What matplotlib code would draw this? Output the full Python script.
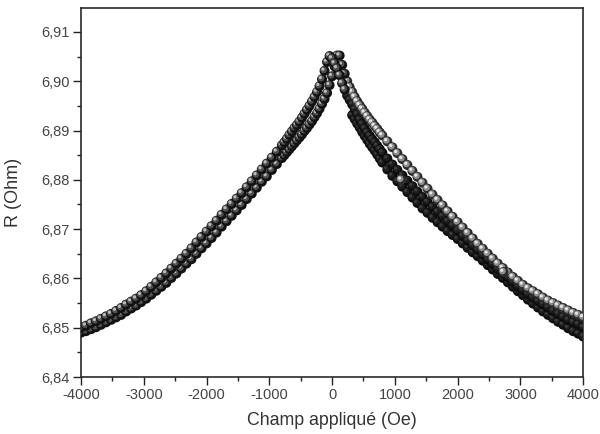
import matplotlib
matplotlib.use("Agg")
import numpy as np
import matplotlib.pyplot as plt
from matplotlib.path import Path
from matplotlib.collections import PathCollection
from matplotlib.transforms import IdentityTransform
from matplotlib.ticker import MultipleLocator, FuncFormatter

# applied field (Oe), shared by both sweeps; 80 Oe steps, 40 Oe near zero
H_field = [-4000, -3920, -3840, -3760, -3680, -3600, -3520, -3440, -3360, -3280,
           -3200, -3120, -3040, -2960, -2880, -2800, -2720, -2640, -2560, -2480,
           -2400, -2320, -2240, -2160, -2080, -2000, -1920, -1840, -1760, -1680,
           -1600, -1520, -1440, -1360, -1280, -1200, -1120, -1040, -960, -880,
           -800,
           -760, -720, -680, -640, -600, -560, -520, -480, -440, -400,
           -360, -320, -280, -240, -200, -160, -120, -80, -40, 0,
           40, 80, 120, 160, 200, 240, 280, 320, 360, 400,
           440, 480, 520, 560, 600, 640, 680, 720, 760,
           800, 880, 960, 1040, 1120, 1200, 1280, 1360, 1440, 1520,
           1600, 1680, 1760, 1840, 1920, 2000, 2080, 2160, 2240, 2320,
           2400, 2480, 2560, 2640, 2720, 2800, 2880, 2960, 3040, 3120,
           3200, 3280, 3360, 3440, 3520, 3600, 3680, 3760, 3840, 3920,
           4000]

# sweep going down: upper curve on the left, dark curve on the right
R_down = [6.8500, 6.8504, 6.8509, 6.8513, 6.8518, 6.8523, 6.8528, 6.8534, 6.8540, 6.8547,
          6.8553, 6.8559, 6.8566, 6.8574, 6.8583, 6.8592, 6.8601, 6.8610, 6.8620, 6.8630,
          6.8640, 6.8650, 6.8661, 6.8673, 6.8684, 6.8695, 6.8706, 6.8717, 6.8729, 6.8740,
          6.8751, 6.8762, 6.8773, 6.8785, 6.8797, 6.8809, 6.8821, 6.8833, 6.8845, 6.8857,
          6.8870,
          6.8876, 6.8883, 6.8891, 6.8898, 6.8905, 6.8911, 6.8918, 6.8926, 6.8934, 6.8942,
          6.8950, 6.8959, 6.8968, 6.8978, 6.8990, 6.9004, 6.9021, 6.9039, 6.9051, 6.9046,
          6.9036, 6.9026, 6.9012, 6.8996, 6.8983, 6.8971, 6.8962, 6.8953, 6.8943, 6.8933,
          6.8922, 6.8913, 6.8904, 6.8896, 6.8889, 6.8882, 6.8876, 6.8869, 6.8862,
          6.8855, 6.8843, 6.8831, 6.8820, 6.8809, 6.8798, 6.8787, 6.8776, 6.8765, 6.8755,
          6.8745, 6.8735, 6.8726, 6.8716, 6.8707, 6.8697, 6.8686, 6.8677, 6.8667, 6.8658,
          6.8648, 6.8638, 6.8629, 6.8619, 6.8611, 6.8602, 6.8593, 6.8584, 6.8576, 6.8568,
          6.8561, 6.8554, 6.8547, 6.8541, 6.8534, 6.8528, 6.8522, 6.8516, 6.8511, 6.8507,
          6.8501]

# sweep going up: lower curve on the left, light curve on the right
R_up = [6.8490, 6.8493, 6.8497, 6.8501, 6.8506, 6.8511, 6.8516, 6.8521, 6.8526, 6.8533,
        6.8539, 6.8545, 6.8552, 6.8559, 6.8567, 6.8575, 6.8583, 6.8591, 6.8601, 6.8610,
        6.8620, 6.8630, 6.8639, 6.8650, 6.8661, 6.8671, 6.8682, 6.8693, 6.8705, 6.8716,
        6.8727, 6.8738, 6.8749, 6.8761, 6.8772, 6.8784, 6.8796, 6.8807, 6.8820, 6.8832,
        6.8844,
        6.8850, 6.8856, 6.8862, 6.8868, 6.8874, 6.8880, 6.8886, 6.8892, 6.8899, 6.8905,
        6.8912, 6.8919, 6.8927, 6.8935, 6.8944, 6.8954, 6.8964, 6.8976, 6.8992, 6.9010,
        6.9030, 6.9052, 6.9052, 6.9033, 6.9015, 6.9000, 6.8988, 6.8978, 6.8968, 6.8959,
        6.8951, 6.8944, 6.8936, 6.8929, 6.8922, 6.8916, 6.8909, 6.8903, 6.8896,
        6.8890, 6.8878, 6.8866, 6.8854, 6.8842, 6.8830, 6.8818, 6.8806, 6.8794, 6.8782,
        6.8770, 6.8759, 6.8748, 6.8736, 6.8725, 6.8714, 6.8703, 6.8692, 6.8681, 6.8670,
        6.8660, 6.8650, 6.8640, 6.8630, 6.8621, 6.8612, 6.8603, 6.8595, 6.8587, 6.8580,
        6.8574, 6.8568, 6.8561, 6.8555, 6.8550, 6.8545, 6.8540, 6.8535, 6.8530, 6.8526,
        6.8521]

# third run, only seen on the right (bottom of the dark band), from 320 Oe
H_third = H_field[68:]
R_third = [6.8931, 6.8923, 6.8914, 6.8906, 6.8897, 6.8889, 6.8881, 6.8873, 6.8866, 6.8859,
           6.8851, 6.8843,
           6.8835, 6.8821, 6.8808, 6.8797, 6.8786, 6.8775, 6.8764, 6.8753, 6.8742, 6.8733,
           6.8723, 6.8714, 6.8705, 6.8696, 6.8688, 6.8680, 6.8671, 6.8662, 6.8653, 6.8645,
           6.8636, 6.8627, 6.8618, 6.8609, 6.8601, 6.8592, 6.8583, 6.8574, 6.8566, 6.8557,
           6.8549, 6.8541, 6.8533, 6.8526, 6.8519, 6.8512, 6.8506, 6.8499, 6.8493, 6.8488,
           6.8482]

# two isolated points sitting off the light curve
H_stray = [1100, 2730]
R_stray = [6.8800, 6.8613]

plt.rcParams['font.family'] = ['Liberation Sans', 'DejaVu Sans']

fig = plt.figure(figsize=(6, 4.34), dpi=100)
ax = fig.add_axes([0.135, 0.1313, 0.837, 0.8503])

# a bead = dark disc + grey disc + bright spot, shifted to the upper left
circ = Path.unit_circle()
bead = [Path(circ.vertices * 0.5, circ.codes),
        Path(circ.vertices * 0.33 + [-0.1, 0.1], circ.codes),
        Path(circ.vertices * 0.16 + [-0.17, 0.17], circ.codes)]


def beads(h, r, colors, z):
    # every bead drawn whole before the next one, so they overlap like real balls
    pts = np.repeat(np.column_stack([h, r]), 3, axis=0)
    coll = PathCollection(bead, sizes=[52], offsets=pts, offset_transform=ax.transData,
                          facecolors=colors, edgecolors='none', zorder=z)
    coll.set_transform(IdentityTransform())
    ax.add_collection(coll, autolim=False)


plain = ['#121212', '#505050', '#bcbcbc']
light = ['#2c2c2c', '#8e8e8e', '#e6e6e6']
dark = ['#0c0c0c', '#1e1e1e', '#3c3c3c']

n = 66  # index of 240 Oe: start of the right-hand branches
beads(H_third, R_third, dark, 2)
beads(H_field[n:], R_down[n:], dark, 3)
beads(H_field[n:], R_up[n:], light, 4)
beads(H_field[:n], R_up[:n], plain, 5)
beads(H_field[:n], R_down[:n], plain, 6)
beads(H_stray, R_stray, light, 7)

ax.set_xlim(-4000, 4000)
ax.set_ylim(6.84, 6.91485)
ax.xaxis.set_major_locator(MultipleLocator(1000))
ax.xaxis.set_minor_locator(MultipleLocator(500))
ax.yaxis.set_major_locator(MultipleLocator(0.01))
ax.yaxis.set_minor_locator(MultipleLocator(0.005))
ax.xaxis.set_major_formatter(FuncFormatter(lambda v, p: '%d' % v))
ax.yaxis.set_major_formatter(FuncFormatter(lambda v, p: ('%.2f' % v).replace('.', ',')))

ax.tick_params(which='major', direction='out', length=5.5, width=1, color='#222222',
               labelsize=10.5, labelcolor='#444444', pad=2.5)
ax.tick_params(which='minor', direction='out', length=3, width=1, color='#222222')
ax.tick_params(top=False, right=False)
for s in ax.spines.values():
    s.set_linewidth(1.2)
    s.set_color('#2a2a2a')

ax.set_xlabel('Champ appliqué (Oe)', fontsize=12.8, color='#333333')
ax.set_ylabel('R (Ohm)', fontsize=13, color='#333333')
ax.xaxis.set_label_coords(0.5, -0.095)
ax.yaxis.set_label_coords(-0.117, 0.5)

plt.savefig('out.png', dpi=100, facecolor='white')
